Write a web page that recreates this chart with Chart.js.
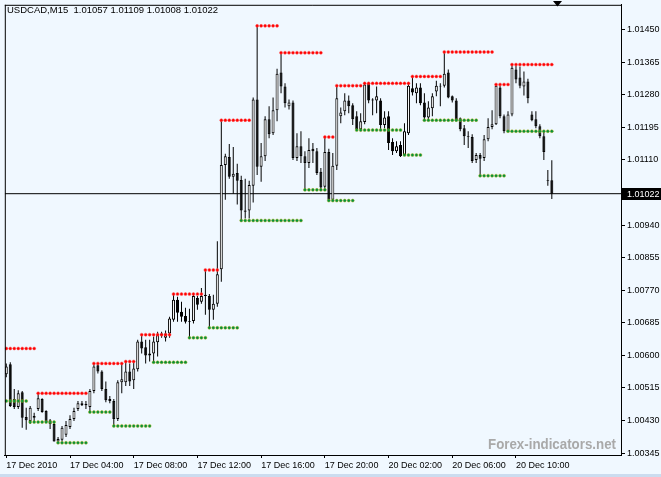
<!DOCTYPE html>
<html>
<head>
<meta charset="utf-8">
<script src="https://cdn.jsdelivr.net/npm/chart.js@4.4.0/dist/chart.umd.min.js"></script>
<style>
  html, body { margin: 0; padding: 0; background: #f0f8ff; }
  canvas { display: block; }
</style>
</head>
<body>
<canvas id="chart" width="661" height="477"></canvas>
<script>
// USDCAD M15 candles, 17-20 Dec 2010
const chartTitle = 'USDCAD,M15  1.01057 1.01109 1.01008 1.01022';
const watermark = 'Forex-indicators.net';

const opens = [1.00551,1.00577,1.00486,1.00465,1.00504,1.00439,1.00429,1.00442,1.00460,1.00486,1.00455,1.00431,1.00421,1.00375,1.00380,1.00393,1.00413,1.00434,1.00460,1.00470,1.00473,1.00465,1.00507,1.00574,1.00558,1.00512,1.00486,1.00481,1.00434,1.00530,1.00530,1.00558,1.00535,1.00564,1.00636,1.00621,1.00600,1.00605,1.00634,1.00652,1.00646,1.00657,1.00693,1.00745,1.00714,1.00703,1.00688,1.00690,1.00750,1.00740,1.00758,1.00755,1.00719,1.00735,1.00825,1.01097,1.01118,1.01066,1.01076,1.01058,1.00978,1.00978,1.01043,1.01268,1.01092,1.01120,1.01216,1.01180,1.01240,1.01338,1.01302,1.01250,1.01260,1.01115,1.01146,1.01120,1.01102,1.01139,1.01133,1.01079,1.01040,1.01131,1.01006,1.01095,1.01224,1.01237,1.01265,1.01253,1.01224,1.01190,1.01209,1.01310,1.01268,1.01265,1.01265,1.01201,1.01224,1.01157,1.01133,1.01149,1.01123,1.01180,1.01297,1.01284,1.01299,1.01260,1.01221,1.01245,1.01289,1.01304,1.01304,1.01338,1.01276,1.01265,1.01219,1.01193,1.01172,1.01170,1.01110,1.01123,1.01115,1.01164,1.01196,1.01203,1.01299,1.01224,1.01185,1.01229,1.01346,1.01325,1.01302,1.01315,1.01229,1.01216,1.01198,1.01172,1.01056,1.01057];
const highs = [1.00579,1.00582,1.00512,1.00509,1.00507,1.00463,1.00468,1.00450,1.00501,1.00488,1.00457,1.00434,1.00426,1.00387,1.00416,1.00429,1.00444,1.00463,1.00481,1.00481,1.00481,1.00512,1.00579,1.00577,1.00561,1.00532,1.00494,1.00486,1.00535,1.00579,1.00584,1.00579,1.00582,1.00641,1.00654,1.00641,1.00641,1.00649,1.00662,1.00662,1.00665,1.00701,1.00760,1.00753,1.00740,1.00724,1.00722,1.00758,1.00755,1.00776,1.00823,1.00760,1.00758,1.00898,1.01214,1.01126,1.01152,1.01144,1.01100,1.01069,1.01061,1.01056,1.01273,1.01460,1.01154,1.01224,1.01250,1.01273,1.01348,1.01390,1.01310,1.01268,1.01265,1.01180,1.01185,1.01133,1.01167,1.01154,1.01141,1.01089,1.01170,1.01139,1.01128,1.01304,1.01247,1.01284,1.01278,1.01258,1.01237,1.01232,1.01310,1.01310,1.01271,1.01302,1.01271,1.01237,1.01237,1.01167,1.01159,1.01159,1.01206,1.01310,1.01328,1.01310,1.01310,1.01284,1.01263,1.01284,1.01317,1.01310,1.01392,1.01346,1.01278,1.01271,1.01221,1.01201,1.01185,1.01177,1.01128,1.01128,1.01175,1.01219,1.01240,1.01307,1.01304,1.01229,1.01237,1.01359,1.01356,1.01354,1.01341,1.01322,1.01237,1.01237,1.01203,1.01185,1.01084,1.01109];
const lows = [1.00543,1.00465,1.00460,1.00460,1.00411,1.00406,1.00421,1.00426,1.00455,1.00450,1.00424,1.00408,1.00375,1.00372,1.00375,1.00387,1.00408,1.00429,1.00455,1.00468,1.00460,1.00452,1.00501,1.00553,1.00507,1.00478,1.00475,1.00416,1.00429,1.00501,1.00520,1.00520,1.00512,1.00558,1.00605,1.00579,1.00584,1.00582,1.00597,1.00646,1.00636,1.00646,1.00688,1.00688,1.00688,1.00683,1.00646,1.00683,1.00719,1.00735,1.00706,1.00672,1.00693,1.00727,1.00792,1.01006,1.01061,1.01022,1.00994,1.00952,1.00957,1.00957,1.00999,1.01071,1.01053,1.01107,1.01167,1.01175,1.01211,1.01284,1.01247,1.01242,1.01110,1.01107,1.01102,1.01032,1.01089,1.01102,1.01071,1.01032,1.01035,1.01004,1.01006,1.01084,1.01206,1.01227,1.01232,1.01201,1.01188,1.01185,1.01203,1.01258,1.01227,1.01232,1.01188,1.01193,1.01136,1.01123,1.01128,1.01118,1.01123,1.01175,1.01278,1.01258,1.01253,1.01214,1.01214,1.01224,1.01276,1.01250,1.01299,1.01271,1.01260,1.01211,1.01185,1.01149,1.01141,1.01102,1.01102,1.01069,1.01107,1.01159,1.01190,1.01201,1.01219,1.01180,1.01185,1.01224,1.01310,1.01297,1.01278,1.01258,1.01211,1.01193,1.01167,1.01110,1.01043,1.01008];
const closes = [1.00571,1.00468,1.00465,1.00501,1.00437,1.00431,1.00463,1.00437,1.00488,1.00452,1.00426,1.00421,1.00375,1.00382,1.00411,1.00418,1.00434,1.00455,1.00475,1.00475,1.00470,1.00507,1.00571,1.00558,1.00512,1.00483,1.00481,1.00434,1.00530,1.00538,1.00558,1.00532,1.00566,1.00636,1.00618,1.00600,1.00605,1.00636,1.00654,1.00657,1.00657,1.00696,1.00745,1.00711,1.00701,1.00688,1.00690,1.00755,1.00732,1.00755,1.00755,1.00719,1.00735,1.00812,1.01097,1.01120,1.01066,1.01074,1.01056,1.00978,1.00975,1.01045,1.01268,1.01092,1.01120,1.01216,1.01177,1.01240,1.01335,1.01302,1.01258,1.01260,1.01115,1.01146,1.01120,1.01102,1.01136,1.01133,1.01076,1.01038,1.01131,1.01006,1.01095,1.01271,1.01234,1.01265,1.01250,1.01216,1.01190,1.01211,1.01307,1.01265,1.01265,1.01276,1.01201,1.01221,1.01154,1.01133,1.01146,1.01120,1.01185,1.01304,1.01286,1.01299,1.01258,1.01221,1.01247,1.01276,1.01304,1.01302,1.01335,1.01273,1.01265,1.01214,1.01190,1.01172,1.01170,1.01107,1.01123,1.01113,1.01164,1.01196,1.01203,1.01304,1.01224,1.01185,1.01229,1.01351,1.01320,1.01304,1.01315,1.01271,1.01214,1.01198,1.01172,1.01131,1.01058,1.01022];

// fractal levels: [first bar, last bar, price]
const resistance = [[0,7,1.00618],[8,20,1.00501],[22,29,1.00579],[30,32,1.00584],[34,41,1.00654],[42,49,1.00760],[50,53,1.00823],[54,61,1.01214],[63,68,1.01460],[69,79,1.01390],[80,82,1.01170],[83,89,1.01304],[90,101,1.01310],[102,109,1.01328],[110,122,1.01392],[123,126,1.01307],[127,137,1.01359]];
const support = [[0,5,1.00481],[6,12,1.00426],[13,20,1.00372],[21,26,1.00452],[27,36,1.00416],[37,45,1.00582],[46,50,1.00646],[51,58,1.00672],[59,74,1.00952],[75,80,1.01032],[81,87,1.01004],[88,99,1.01188],[100,104,1.01123],[105,118,1.01214],[119,125,1.01069],[126,137,1.01185]];

const timeTicks = [0,16,32,48,64,80,96,112,128];
const timeLabels = ['17 Dec 2010','17 Dec 04:00','17 Dec 08:00','17 Dec 12:00','17 Dec 16:00','17 Dec 20:00','20 Dec 02:00','20 Dec 06:00','20 Dec 10:00'];
const priceTicks = [1.00345,1.00430,1.00515,1.00600,1.00685,1.00770,1.00855,1.00940,1.01110,1.01195,1.01280,1.01365,1.01450];

const lastClose = closes[closes.length - 1];
const slotMin = -0.375, slotMax = 154.375;
const axisFont = { family: '"Liberation Sans", Arial, sans-serif', size: 9 };

const idx = opens.map((_, i) => i);
const bodies = idx.map(i => ({ x: i, y: [opens[i], closes[i]] }));
const wicks = idx.map(i => ({ x: i, y: [lows[i], highs[i]] }));
const bodyColors = idx.map(i => closes[i] >= opens[i] ? '#ffffff' : '#000000');

function expand(segments) {
  const pts = [];
  segments.forEach(([from, to, level]) => {
    for (let i = from; i <= to; i++) pts.push({ x: i, y: level });
  });
  return pts;
}

// background, frame, title, price tag, watermark
const mtDecor = {
  id: 'mtDecor',
  beforeDraw(chart) {
    const ctx = chart.ctx;
    ctx.save();
    ctx.fillStyle = '#f0f8ff';
    ctx.fillRect(0, 0, chart.width, chart.height);
    ctx.fillStyle = '#cbdcef';
    ctx.fillRect(0, 474, chart.width, 3);
    ctx.restore();
  },
  beforeDatasetsDraw(chart) {
    const ctx = chart.ctx;
    const a = chart.chartArea;
    ctx.save();
    ctx.font = 'bold 15px "Liberation Sans", Arial, sans-serif';
    const w = ctx.measureText(watermark).width;
    ctx.translate(a.right - 133, a.bottom - 6);
    ctx.scale(128 / w, 1);
    ctx.fillStyle = '#a9a9a9';
    ctx.textBaseline = 'alphabetic';
    ctx.fillText(watermark, 0, 0);
    ctx.restore();
  },
  afterDraw(chart) {
    const ctx = chart.ctx;
    const a = chart.chartArea;
    const y = chart.scales.y.getPixelForValue(lastClose);
    ctx.save();
    ctx.strokeStyle = '#000';
    ctx.lineWidth = 1;
    ctx.beginPath();
    ctx.moveTo(a.left, a.top + 0.5);
    ctx.lineTo(a.right, a.top + 0.5);
    ctx.moveTo(a.left + 0.5, a.top);
    ctx.lineTo(a.left + 0.5, a.bottom + 1);
    ctx.stroke();

    // shift marker
    ctx.fillStyle = '#000';
    ctx.beginPath();
    ctx.moveTo(553, 1);
    ctx.lineTo(562, 1);
    ctx.lineTo(557.5, 6.5);
    ctx.closePath();
    ctx.fill();

    // current price tag
    ctx.fillRect(a.right + 1, Math.round(y) - 6, 39, 12);
    ctx.fillStyle = '#fff';
    ctx.font = '9px "Liberation Sans", Arial, sans-serif';
    ctx.textBaseline = 'middle';
    ctx.fillText(lastClose.toFixed(5), a.right + 6, y + 0.5);

    ctx.fillStyle = '#000';
    ctx.font = '9.5px "Liberation Sans", Arial, sans-serif';
    ctx.textBaseline = 'alphabetic';
    ctx.fillText(chartTitle, 7, 13);
    ctx.restore();
  }
};

new Chart(document.getElementById('chart'), {
  type: 'bar',
  data: {
    datasets: [
      {
        type: 'line', data: [{ x: slotMin, y: lastClose }, { x: slotMax, y: lastClose }],
        borderColor: '#000', borderWidth: 1, pointRadius: 0, order: 4
      },
      {
        data: wicks, backgroundColor: '#000', borderWidth: 0,
        barThickness: 1, grouped: false, inflateAmount: 0, order: 3
      },
      {
        data: bodies, backgroundColor: bodyColors, borderColor: '#000', borderWidth: 1,
        borderSkipped: false, barThickness: 3, grouped: false, inflateAmount: 0, order: 2
      },
      {
        type: 'line', data: expand(resistance), showLine: false,
        pointRadius: 1.5, pointBorderWidth: 0.8,
        pointBackgroundColor: '#ff0000', pointBorderColor: 'rgba(255,80,80,0.6)', order: 1
      },
      {
        type: 'line', data: expand(support), showLine: false,
        pointRadius: 1.5, pointBorderWidth: 0.8,
        pointBackgroundColor: '#009040', pointBorderColor: 'rgba(170,170,0,0.55)', order: 0
      }
    ]
  },
  options: {
    responsive: false,
    animation: false,
    events: [],
    layout: { padding: { left: 2, top: 1, right: 0, bottom: 0 } },
    plugins: { legend: { display: false }, tooltip: { enabled: false } },
    scales: {
      x: {
        type: 'linear', min: slotMin, max: slotMax, offset: false,
        grid: { display: true, drawOnChartArea: false, offset: false, tickLength: 3, color: '#000' },
        border: { display: true, color: '#000', width: 1 },
        ticks: {
          autoSkip: false, maxRotation: 0, minRotation: 0, align: 'start', padding: 2,
          color: '#000', font: axisFont,
          callback: v => { const k = timeTicks.indexOf(v); return k >= 0 ? timeLabels[k] : ''; }
        },
        afterBuildTicks: s => { s.ticks = timeTicks.map(v => ({ value: v })); },
        afterFit: s => { s.height = 22; s.paddingLeft = 0; s.paddingRight = 0; }
      },
      y: {
        position: 'right', min: 1.00340, max: 1.01515,
        grid: { display: true, drawOnChartArea: false, tickLength: 4, color: '#000' },
        border: { display: true, color: '#000', width: 1 },
        ticks: {
          autoSkip: false, padding: 2, color: '#000', font: axisFont,
          callback: v => v.toFixed(5)
        },
        afterBuildTicks: s => { s.ticks = priceTicks.map(v => ({ value: v })); },
        afterFit: s => { s.width = 40; s.paddingTop = 0; s.paddingBottom = 0; }
      }
    }
  },
  plugins: [mtDecor]
});
</script>
</body>
</html>
